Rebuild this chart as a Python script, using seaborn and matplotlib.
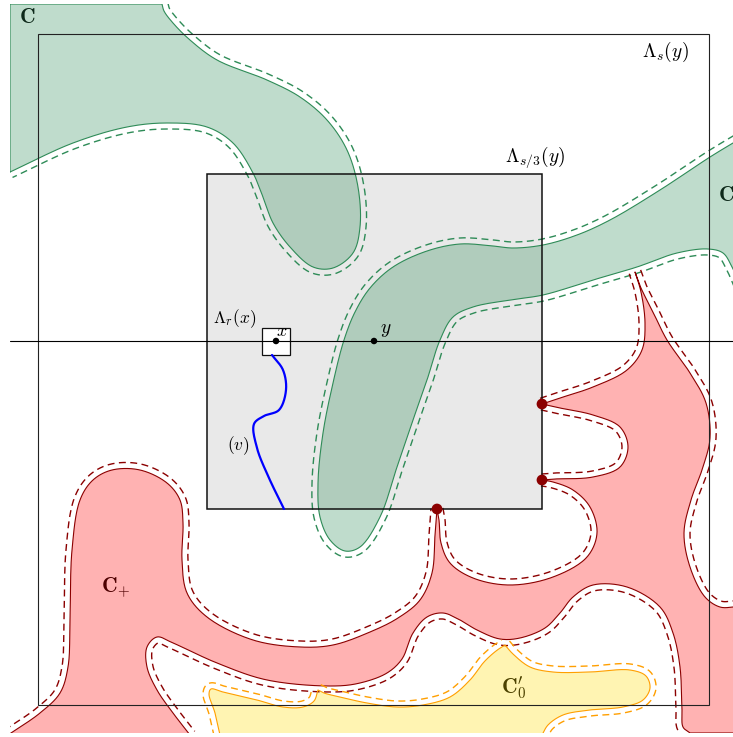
import numpy as np
import matplotlib
matplotlib.use("Agg")
import matplotlib.pyplot as plt
import matplotlib.patches as mpatches
import seaborn as sns

# ---------------- data (pixel coordinates of the reference) ----------------
# boxes: (x0, y0, x1, y1)
box_outer = (38, 34, 709, 705)
box_inner = (207, 174, 542, 509)
box_small = (262, 328, 290, 355)
axis_y = 341
axis_x_range = (10, 733)

pt_x = (276, 341)
pt_y = (374, 341)
red_dots_x = [437, 542, 542]
red_dots_y = [509, 404, 480]

blue_path = [(272, 355), (283, 370), (286, 390), (279, 410), (264, 416), (254, 424),
             (257, 448), (269, 478), (284, 509)]

# shape boundaries: list of (points, kind) ; 'c' = smooth free boundary (dashed offset), 's' = straight cut
green1 = [
    ([(10, 172), (10, 4), (162, 4)], 's'),
    ([(162, 4), (164, 11), (173, 23), (190, 40), (217, 60), (267, 80), (300, 97), (327, 120),
      (347, 150), (358, 187), (360, 227), (353, 253), (333, 268), (313, 267), (290, 247),
      (273, 223), (263, 197), (253, 173), (233, 143), (207, 127), (167, 123), (127, 127),
      (73, 143), (10, 172)], 'c'),
]
green2 = [
    ([(745, 136), (733, 143), (710, 157), (660, 190), (610, 220), (577, 235), (543, 245),
      (513, 248), (493, 246), (460, 244), (427, 251), (393, 267), (370, 288), (355, 312),
      (344, 340), (333, 383), (323, 433), (318, 483), (320, 517), (330, 540), (345, 551),
      (360, 547), (380, 517), (397, 467), (413, 420), (427, 380), (440, 340), (453, 317),
      (473, 307), (510, 300), (543, 295), (593, 280), (637, 267), (677, 253), (708, 249),
      (723, 253), (732, 267), (742, 290)], 'c'),
    ([(742, 290), (770, 290), (770, 130), (745, 136)], 's'),
]
red = [
    ([(8, 735), (40, 713), (60, 693), (68, 667), (70, 617), (72, 550), (80, 500), (93, 480),
      (112, 470), (140, 470), (167, 483), (180, 500), (183, 523), (182, 560), (187, 593),
      (207, 617), (253, 640), (300, 647), (333, 645), (370, 632), (398, 618), (420, 600),
      (432, 573), (435, 535), (437, 509)], 'c'),
    ([(437, 509), (439, 520), (441, 543), (450, 563), (473, 578), (510, 585), (553, 577),
      (587, 557), (597, 533), (590, 507), (573, 490), (553, 482), (542, 480)], 'c'),
    ([(542, 480), (555, 479), (593, 477), (620, 467), (628, 447), (620, 427), (593, 415),
      (560, 408), (542, 404)], 'c'),
    ([(542, 404), (560, 398), (593, 387), (627, 370), (642, 350), (645, 323), (641, 292),
      (635, 272)], 'c'),
    ([(635, 272), (641, 288), (653, 312), (667, 340), (690, 373), (706, 403), (710, 438),
      (703, 467), (691, 500), (684, 533), (690, 567), (705, 597), (720, 607), (733, 607),
      (750, 604)], 'c'),
    ([(750, 604), (770, 604), (770, 733), (690, 733)], 's'),
    ([(690, 733), (683, 727), (682, 710), (680, 667), (673, 633), (660, 607), (627, 587),
      (593, 585), (573, 597), (560, 613), (545, 628), (520, 638), (500, 639), (477, 630),
      (460, 620), (443, 613), (427, 617), (413, 633), (402, 659), (387, 673), (360, 683),
      (333, 686), (267, 680), (217, 663), (173, 643), (157, 637), (147, 647), (147, 667),
      (157, 690), (173, 713), (190, 735)], 'c'),
    ([(190, 735), (8, 735)], 's'),
]
yellow = [
    ([(220, 735), (215, 713), (209, 694), (211, 689), (223, 692), (257, 700), (283, 707),
      (303, 707), (314, 701), (318, 690)], 'c'),
    ([(318, 690), (324, 693), (340, 697), (367, 703), (397, 707), (423, 705), (450, 697),
      (470, 680), (484, 662), (496, 651), (505, 645)], 'c'),
    ([(505, 645), (513, 654), (530, 667), (553, 672), (590, 672), (630, 670), (646, 676),
      (650, 688), (643, 700), (623, 707), (590, 710), (563, 715), (548, 725), (542, 735)], 'c'),
    ([(542, 735), (220, 735)], 's'),
]

# text labels: (text, x, y, fontsize)
box_labels = [
    (r'$\Lambda_s(y)$', 665, 52, 14),
    (r'$\Lambda_{s/3}(y)$', 535, 157, 14),
    (r'$\Lambda_r(x)$', 235, 319, 12.5),
    (r'$x$', 282, 331, 13),
    (r'$y$', 386, 330, 14),
    (r'$(v)$', 238, 446, 12.5),
]
region_labels = [
    (r'$\mathbf{C}$', 27, 17, 15.5),
    (r'$\mathbf{C}_{\!+}$', 116, 588, 15.5),
    (r"$\mathbf{C}_0'$", 514, 688, 15.5),
]
label_c_right = (r'$\mathbf{C}$', 718, 195, 15.5)

# ---------------- helpers ----------------
def cr_seg(p0, p1, p2, p3, n, alpha=0.5):
    def tj(ti, pi, pj):
        return ti + max(np.linalg.norm(pj - pi), 1e-6) ** alpha
    t0 = 0.0
    t1 = tj(t0, p0, p1)
    t2 = tj(t1, p1, p2)
    t3 = tj(t2, p2, p3)
    t = np.linspace(t1, t2, n, endpoint=False)[:, None]
    A1 = (t1 - t) / (t1 - t0) * p0 + (t - t0) / (t1 - t0) * p1
    A2 = (t2 - t) / (t2 - t1) * p1 + (t - t1) / (t2 - t1) * p2
    A3 = (t3 - t) / (t3 - t2) * p2 + (t - t2) / (t3 - t2) * p3
    B1 = (t2 - t) / (t2 - t0) * A1 + (t - t0) / (t2 - t0) * A2
    B2 = (t3 - t) / (t3 - t1) * A2 + (t - t1) / (t3 - t1) * A3
    return (t2 - t) / (t2 - t1) * B1 + (t - t1) / (t2 - t1) * B2


def smooth(pts, n=16):
    P = np.asarray(pts, float)
    if len(P) < 3:
        return P
    P = np.vstack([2 * P[0] - P[1], P, 2 * P[-1] - P[-2]])
    out = [cr_seg(P[i - 1], P[i], P[i + 1], P[i + 2], n) for i in range(1, len(P) - 2)]
    out.append(P[-2][None])
    return np.vstack(out)


def build(shape):
    parts = []
    for pts, kind in shape:
        parts.append((smooth(pts) if kind == 'c' else np.asarray(pts, float), kind))
    poly = np.vstack([p for p, _ in parts])
    x, y = poly[:, 0], poly[:, 1]
    area = 0.5 * np.sum(x * np.roll(y, -1) - np.roll(x, -1) * y)
    return poly, parts, np.sign(area)


def offset(curve, sgn, d):
    tx = np.gradient(curve[:, 0])
    ty = np.gradient(curve[:, 1])
    L = np.hypot(tx, ty) + 1e-9
    tx, ty = tx / L, ty / L
    return np.column_stack([curve[:, 0] + sgn * d * ty, curve[:, 1] - sgn * d * tx])


# ---------------- figure ----------------
sns.set_theme(style="white")
plt.rcParams['mathtext.fontset'] = 'cm'
plt.rcParams['font.family'] = ['DejaVu Serif']

fig = plt.figure(figsize=(7.33, 7.37), dpi=100)
ax = fig.add_axes([0, 0, 1, 1])
ax.set_xlim(0, 733)
ax.set_ylim(737, 0)
ax.axis('off')

clip = mpatches.Rectangle((10, 4), 800, 729, transform=ax.transData, visible=False)
ax.add_patch(clip)

# inner gray box fill
bx0, by0, bx1, by1 = box_inner
ax.add_patch(mpatches.Rectangle((bx0, by0), bx1 - bx0, by1 - by0, facecolor='#e9e9e9',
                                edgecolor='none', zorder=1))

styles = [
    (green1, (0.18, 0.545, 0.34), 0.30, '#2e8b57'),
    (green2, (0.18, 0.545, 0.34), 0.30, '#2e8b57'),
    (red, (1.0, 0.0, 0.0), 0.30, '#8b0000'),
    (yellow, (1.0, 0.86, 0.0), 0.30, '#ff9f00'),
]
for shape, fc, al, ec in styles:
    poly, parts, sgn = build(shape)
    f = ax.fill(poly[:, 0], poly[:, 1], facecolor=fc, alpha=al, edgecolor='none', zorder=2)
    for a in f:
        a.set_clip_path(clip)
    closed = np.vstack([poly, poly[:1]])
    ln, = ax.plot(closed[:, 0], closed[:, 1], color=ec, lw=0.8, zorder=3)
    ln.set_clip_path(clip)
    for c, kind in parts:
        if kind != 'c':
            continue
        o = offset(c, sgn, 6.0)
        dl, = ax.plot(o[:, 0], o[:, 1], color=ec, lw=1.0, ls=(0, (5, 3.2)), zorder=3)
        dl.set_clip_path(clip)

# boxes
ox0, oy0, ox1, oy1 = box_outer
ax.add_patch(mpatches.Rectangle((ox0, oy0), ox1 - ox0, oy1 - oy0, facecolor='none',
                                edgecolor='#222222', lw=0.8, zorder=4))
ax.add_patch(mpatches.Rectangle((bx0, by0), bx1 - bx0, by1 - by0, facecolor='none',
                                edgecolor='#111111', lw=1.1, zorder=4))
sx0, sy0, sx1, sy1 = box_small
ax.add_patch(mpatches.Rectangle((sx0, sy0), sx1 - sx0, sy1 - sy0, facecolor='white',
                                edgecolor='#111111', lw=0.9, zorder=4))
ax.plot(list(axis_x_range), [axis_y, axis_y], color='black', lw=0.8, zorder=4)

# blue path
bp = smooth(blue_path, 20)
sns.lineplot(x=bp[:, 0], y=bp[:, 1], sort=False, estimator=None, color='blue', lw=1.6,
             ax=ax, zorder=5)

# points
sns.scatterplot(x=[pt_x[0], pt_y[0]], y=[pt_x[1], pt_y[1]], color='black', s=22,
                edgecolor='none', ax=ax, zorder=6)
sns.scatterplot(x=red_dots_x, y=red_dots_y, color='#8b0000', s=60, edgecolor='none',
                ax=ax, zorder=6)

for txt, x, y, fs in box_labels:
    ax.text(x, y, txt, ha='center', va='center', fontsize=fs, color='black', zorder=7)
for txt, x, y, fs in region_labels:
    ax.text(x, y, txt, ha='center', va='center', fontsize=fs, color='black', zorder=1.5)
t, x, y, fs = label_c_right
ax.text(x, y, t, ha='left', va='center', fontsize=fs, color='black', zorder=1.5)

fig.savefig('out.png', dpi=100)
